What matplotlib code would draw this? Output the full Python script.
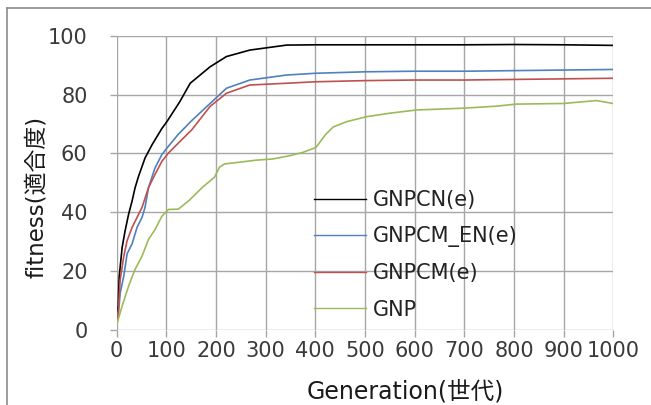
import matplotlib
matplotlib.use("Agg")
import matplotlib.pyplot as plt
from matplotlib.lines import Line2D

plt.rcParams['font.family'] = ['DejaVu Sans', 'Noto Sans CJK JP']

# values (generation, fitness)
gen_pcn = [1, 3, 5, 11, 17, 24, 31, 37, 44, 57, 71, 91, 101, 127, 148, 188, 221, 268, 342,
           400, 500, 600, 700, 800, 900, 1000]
fit_pcn = [6, 8, 18, 28, 33.7, 39.3, 43.8, 48.3, 52.2, 58.4, 62.9, 68.5, 70.8, 77.6, 83.9,
           89.5, 93, 95.2, 96.9, 97, 97, 97, 97, 97.1, 97, 96.8]

gen_pcm_en = [1, 3, 7, 14, 21, 31, 41, 51, 57, 64, 77, 91, 104, 124, 150, 188, 221, 268, 342,
              400, 500, 600, 700, 800, 900, 1000]
fit_pcm_en = [3, 4.5, 12.4, 18, 25.8, 29.2, 34.8, 38.2, 41.6, 48.3, 55, 59.6, 62.4, 66.5, 71,
              77, 82.2, 85, 86.7, 87.3, 87.8, 88, 88, 88.2, 88.4, 88.6]

gen_pcm = [1, 3, 7, 14, 21, 31, 41, 51, 64, 77, 91, 104, 124, 151, 188, 221, 268, 342,
           400, 500, 600, 700, 800, 900, 1000]
fit_pcm = [3, 5.6, 16.9, 24.7, 30.3, 34.8, 38.2, 41.6, 48.3, 52.8, 57.3, 60.1, 63.5, 68,
           76, 80.5, 83.3, 83.9, 84.4, 84.8, 85, 85, 85.2, 85.4, 85.6]

gen_gnp = [1, 11, 24, 37, 51, 64, 77, 91, 104, 124, 146, 173, 197, 207, 217, 247, 281, 314,
           348, 374, 401, 421, 436, 463, 503, 550, 604, 698, 765, 805, 899, 966, 1000]
fit_gnp = [2.3, 8, 14.8, 20.5, 25, 30.7, 34, 38.6, 40.9, 41, 44, 48.5, 51.9, 55.3, 56.4, 57,
           57.7, 58.1, 59.2, 60.3, 62, 66.5, 69, 70.8, 72.5, 73.7, 74.8, 75.4, 76.1, 76.8,
           77, 78, 77]

labels = ['GNPCN(e)', 'GNPCM_EN(e)', 'GNPCM(e)', 'GNP']
colors = ['black', '#4F81BD', '#C0504D', '#9BBB59']

fig = plt.figure(figsize=(6.51, 4.05), dpi=100)
ax = fig.add_axes([116.7 / 651, 1 - 329.5 / 405, (613.3 - 116.7) / 651, (329.5 - 36) / 405])

ax.plot(gen_pcn, fit_pcn, color=colors[0], lw=1.2, label=labels[0])
ax.plot(gen_pcm_en, fit_pcm_en, color=colors[1], lw=1.2, label=labels[1])
ax.plot(gen_pcm, fit_pcm, color=colors[2], lw=1.2, label=labels[2])
ax.plot(gen_gnp, fit_gnp, color=colors[3], lw=1.2, label=labels[3])

ax.set_xlim(0, 1000)
ax.set_ylim(0, 100)
ax.set_xticks(range(0, 1001, 100))
ax.set_yticks(range(0, 101, 20))
ax.grid(True, color='#a6a6a6', lw=1.0)
ax.set_axisbelow(True)
for s in ax.spines.values():
    s.set_visible(False)
ax.tick_params(axis='both', length=5, width=1.0, color='#a6a6a6', labelsize=15,
               labelcolor='#3a3a3a')
ax.tick_params(axis='x', pad=3)
ax.tick_params(axis='y', pad=16)

leg = ax.legend(loc='upper left', bbox_to_anchor=(314 / 651, 1 - 190 / 405),
                bbox_transform=fig.transFigure, frameon=False, fontsize=15,
                handlelength=2.5, handletextpad=0.35, labelspacing=0.78,
                borderpad=0, borderaxespad=0)
for t in leg.get_texts():
    t.set_color('#222222')
for h in leg.get_lines():
    h.set_linewidth(1.0)

fig.text(405.5 / 651, 1 - 398 / 405, 'Generation(世代)', ha='center', va='baseline',
         fontsize=17, color='#1a1a1a')
fig.text(37 / 651, 1 - 196.5 / 405, 'fitness(適合度)', ha='center', va='center',
         rotation=90, fontsize=16.5, color='#1a1a1a')

# outer chart frame (clipped on the right and bottom in the reference)
fig.add_artist(Line2D([7 / 651, 7 / 651], [0, 1 - 8 / 405], transform=fig.transFigure,
                      color='#8c8c8c', lw=1.2))
fig.add_artist(Line2D([7 / 651, 1], [1 - 8 / 405, 1 - 8 / 405], transform=fig.transFigure,
                      color='#8c8c8c', lw=1.2))

fig.savefig('out.png', dpi=100)
